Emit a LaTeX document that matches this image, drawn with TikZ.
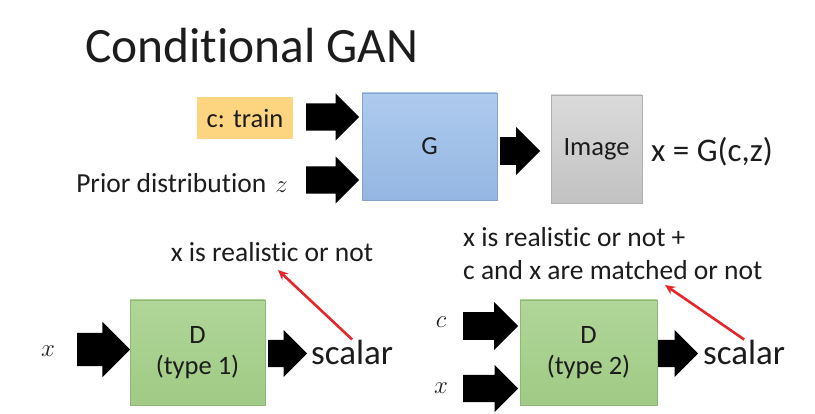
\documentclass[tikz,border=0pt]{standalone}
\usepackage{fontspec}
\setmainfont{Carlito}[Ligatures={NoCommon}]
\usepackage{xcolor}
\usepackage{tikz}
\usetikzlibrary{shapes.arrows, arrows.meta, positioning}

\definecolor{condfill}{HTML}{FDD47F}
\definecolor{gentop}{HTML}{AECBEE}
\definecolor{genbot}{HTML}{94B6E2}
\definecolor{imgtop}{HTML}{DADADA}
\definecolor{imgbot}{HTML}{C2C2C2}
\definecolor{dtop}{HTML}{B0D698}
\definecolor{dbot}{HTML}{A0CA85}
\definecolor{txt}{HTML}{1C1C1C}
\definecolor{hint}{HTML}{E5262A}

\begin{document}
\begin{tikzpicture}[
        x=1pt, y=-1pt,
        every node/.style={text=txt},
        lbl/.style={
            inner sep=0pt,
            font=\fontsize{27.5}{33}\selectfont
        },
        mathlbl/.style={
            inner sep=0pt,
            font=\fontsize{28}{30}\selectfont
        },
        scal/.style={
            inner sep=0pt,
            font=\fontsize{35}{40}\selectfont
        },
        condbox/.style={
            rectangle,
            fill=condfill,
            minimum width=96pt,
            minimum height=42pt,
            inner sep=0pt,
            font=\fontsize{26.5}{31}\selectfont
        },
        genbox/.style={
            rectangle,
            draw=genbot!90!black,
            top color=gentop,
            bottom color=genbot,
            minimum width=135pt,
            minimum height=107pt,
            inner sep=0pt,
            font=\fontsize{26}{31}\selectfont
        },
        imgbox/.style={
            rectangle,
            draw=imgbot!90!black,
            top color=imgtop,
            bottom color=imgbot,
            minimum width=91pt,
            minimum height=108pt,
            inner sep=0pt,
            font=\fontsize{26.5}{31}\selectfont
        },
        dbox/.style={
            rectangle,
            draw=dbot!90!black,
            top color=dtop,
            bottom color=dbot,
            minimum width=135pt,
            minimum height=105pt,
            inner sep=0pt,
            align=center,
            font=\fontsize{26.5}{31}\selectfont
        },
        fat/.style={
            single arrow,
            fill=black,
            draw=none,
            anchor=tail,
            inner xsep=0pt,
            inner ysep=13.5pt,
            minimum height=53pt,
            minimum width=47pt,
            single arrow head extend=10pt
        },
        redarr/.style={-{Stealth[length=10pt, width=9pt]}, line width=2.6pt, draw=hint}
    ]

    \useasboundingbox (0,0) rectangle (815,414);

    \node (title) [anchor=base west, font=\fontsize{49.4}{60}\selectfont, inner sep=0pt] at (85,63) {Conditional GAN};

    % generator
    \node (cond) [condbox] at (245,118) {c: train};
    \node (prior) [lbl, anchor=east] at (288,183) {Prior distribution\hspace{9pt}$z$};
    \node (a1) [fat] at (306,117) {};
    \node (a2) [fat] at (306,180) {};
    \node (gen) [genbox] at (429.5,146.5) {G};
    \node (a3) [fat, minimum height=40pt, minimum width=48pt] at (500,151) {};
    \node (img) [imgbox] at (596.5,149) {Image};
    \node (eq) [anchor=west, inner sep=0pt, font=\fontsize{33}{38}\selectfont] at (651,152) {x = G(c,z)};

    % discriminator, type 1
    \node (real1) [lbl] at (272,252) {x is realistic or not};
    \node (x1) [mathlbl] at (48,351) {$x$};
    \node (in1) [fat, inner ysep=16.5pt, minimum width=55pt, single arrow head extend=11pt] at (77,349.5) {};
    \node (d1) [dbox] at (197.5,352.5) {D\\(type 1)};
    \node (out1) [fat, minimum height=39pt] at (268,353.5) {};
    \node (sc1) [scal, anchor=west] at (311,352) {scalar};
    \coordinate (tip1) at (278,270);
    \draw [redarr] (sc1.north) -- (tip1);

    % discriminator, type 2
    \node (real2) [lbl, anchor=west, align=left] at (463,253.5) {x is realistic or not +\\c and x are matched or not};
    \node (c2) [mathlbl] at (441,322) {$c$};
    \node (x2) [mathlbl] at (441,388) {$x$};
    \node (inc) [fat, minimum height=55pt, minimum width=48pt] at (463,326) {};
    \node (inx) [fat, minimum height=55pt] at (463,388.5) {};
    \node (d2) [dbox, minimum width=137pt] at (588.5,352.5) {D\\(type 2)};
    \node (out2) [fat, minimum height=40pt] at (658,353.5) {};
    \node (sc2) [scal, anchor=west] at (703,352) {scalar};
    \coordinate (tip2) at (665,285);
    \draw [redarr] (sc2.north) -- (tip2);

\end{tikzpicture}
\end{document}
